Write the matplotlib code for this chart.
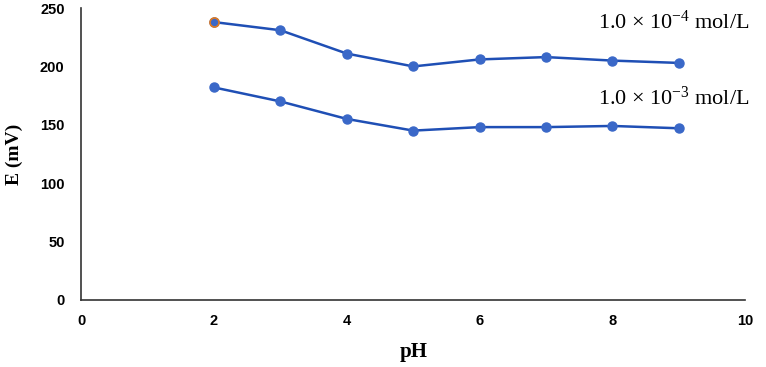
import matplotlib
matplotlib.use("Agg")
import matplotlib.pyplot as plt

ph = [2, 3, 4, 5, 6, 7, 8, 9]
e_1e4 = [238, 231, 211, 200, 206, 208, 205, 203]
e_1e3 = [182, 170, 155, 145, 148, 148, 149, 147]
xticks = [0, 2, 4, 6, 8, 10]
yticks = [0, 50, 100, 150, 200, 250]
labels = ["1.0 × 10$^{-4}$ mol/L", "1.0 × 10$^{-3}$ mol/L"]

plt.rcParams["mathtext.fontset"] = "custom"
plt.rcParams["mathtext.rm"] = "Liberation Serif"
plt.rcParams["mathtext.it"] = "Liberation Serif"

fig = plt.figure(figsize=(7.66, 3.67), dpi=100)
ax = fig.add_axes([0.106, 0.183, 0.867, 0.795])

line_c = "#1f4fb5"
mk_c = "#3a68c8"
for ys in (e_1e4, e_1e3):
    ax.plot(ph, ys, color=line_c, lw=1.8, marker="o", ms=6.5,
            markerfacecolor=mk_c, markeredgecolor=mk_c, zorder=3)
# first point of upper series has orange edge
ax.plot(ph[:1], e_1e4[:1], marker="o", ms=6.5, markerfacecolor=mk_c,
        markeredgecolor="#e07a20", markeredgewidth=1.2, lw=0, zorder=4)

ax.text(8.92, 238, labels[0], fontsize=16, family="Liberation Serif",
        ha="center", va="center")
ax.text(8.92, 173, labels[1], fontsize=16, family="Liberation Serif",
        ha="center", va="center")

ax.set_xlim(0, 10)
ax.set_ylim(0, 250)
ax.set_xticks(xticks)
ax.set_yticks(yticks)
for lab in ax.get_xticklabels() + ax.get_yticklabels():
    lab.set_fontweight("bold")
    lab.set_family("Liberation Sans")
    lab.set_fontsize(10.5)
ax.tick_params(length=0, pad=10)
ax.tick_params(axis="y", pad=12)
for s in ("top", "right"):
    ax.spines[s].set_visible(False)
for s in ("left", "bottom"):
    ax.spines[s].set_color("#333333")
    ax.spines[s].set_linewidth(1.2)

ax.set_xlabel("pH", fontsize=15, fontweight="bold", family="Liberation Serif", labelpad=10)
ax.set_ylabel("E (mV)", fontsize=14, fontweight="bold", family="Liberation Serif", labelpad=12)

fig.savefig("out.png", dpi=100)
